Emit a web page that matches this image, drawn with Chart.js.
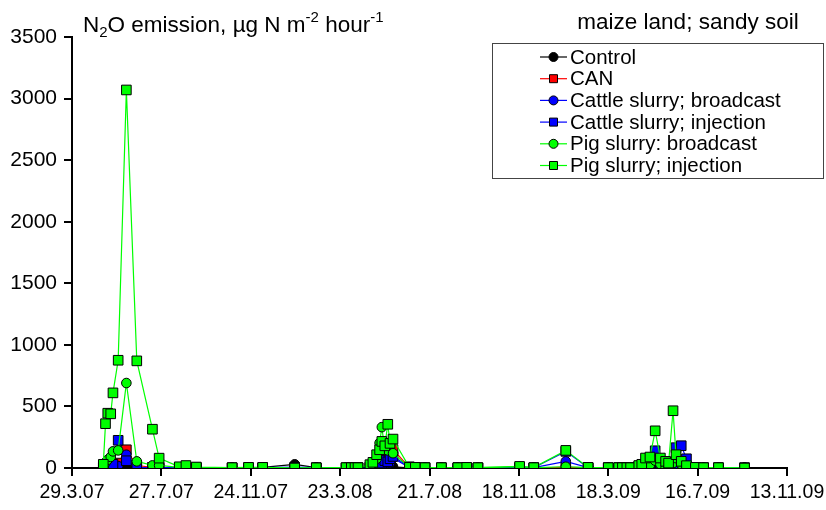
<!DOCTYPE html>
<html>
<head>
<meta charset="utf-8">
<script src="https://cdn.jsdelivr.net/npm/chart.js@4.4.1/dist/chart.umd.min.js"></script>
<style>
  html, body { margin: 0; padding: 0; background: #fff; }
  #wrap { width: 826px; height: 510px; }
</style>
</head>
<body>
<div id="wrap"><canvas id="n2oChart" width="826" height="510"></canvas></div>
<script>
// sampling dates (same for all treatments)
const sampleDates = [
  '2007-05-10','2007-05-13','2007-05-16','2007-05-20','2007-05-23','2007-05-30','2007-06-10','2007-06-24',
  '2007-07-15','2007-07-24','2007-08-20','2007-08-29','2007-09-12','2007-10-30','2007-11-21','2007-12-10',
  '2008-01-22','2008-02-20','2008-03-31','2008-04-07','2008-04-12','2008-04-16','2008-05-02','2008-05-06',
  '2008-05-11','2008-05-15','2008-05-18','2008-05-22','2008-05-26','2008-05-29','2008-06-02','2008-06-24',
  '2008-07-02','2008-07-15','2008-08-06','2008-08-28','2008-09-09','2008-09-24','2008-11-19','2008-12-08',
  '2009-01-20','2009-02-19','2009-03-18','2009-04-01','2009-04-06','2009-04-12','2009-04-17','2009-04-28',
  '2009-05-02','2009-05-07','2009-05-13','2009-05-20','2009-05-27','2009-06-03','2009-06-07','2009-06-13',
  '2009-06-17','2009-06-24','2009-07-01','2009-07-13','2009-07-24','2009-08-13','2009-09-17'
];

const control = [
  5, 8, 10, 10, 12, 10, 15, 5, 3, 3, 2, 2, 2, 2, 3, 5,
  30, 3, 2, 2, 2, 2, 10, 15, 20, 15, 20, 15, 20, 15, 10, 2,
  3, 2, 2, 2, 2, 2, 3, 2, 5, 3, 2, 2, 2, 2, 3, 10,
  15, 10, 8, 10, 8, 5, 8, 10, 10, 8, 5, 2, 2, 2, 2
];
const can = [
  5, 8, 10, 12, 20, 40, 148, 20, 5, 3, 2, 2, 2, 0, 0, 0,
  3, 0, 0, 0, 0, 2, 5, 10, 20, 30, 45, 60, 100, 120, 150, 5,
  2, 0, 0, 0, 0, 0, 0, 0, 5, 0, 0, 0, 0, 0, 0, 3,
  5, 8, 10, 12, 10, 8, 10, 15, 30, 10, 5, 2, 0, 0, 0
];
const cattleBroadcast = [
  15, 25, 30, 20, 40, 15, 108, 5, 3, 3, 2, 2, 2, 2, 2, 3,
  5, 3, 2, 2, 2, 3, 10, 20, 25, 20, 40, 60, 27, 40, 80, 5,
  3, 2, 2, 2, 2, 2, 5, 3, 54, 3, 2, 2, 2, 2, 3, 10,
  15, 20, 10, 40, 20, 10, 20, 30, 60, 40, 10, 5, 3, 3, 3
];
const cattleInjection = [
  5, 10, 15, 20, 30, 225, 59, 3, 3, 3, 2, 2, 2, 2, 3, 3,
  5, 3, 2, 2, 2, 3, 8, 15, 15, 25, 40, 60, 50, 75, 94, 10,
  5, 3, 3, 3, 2, 2, 5, 3, 135, 3, 3, 3, 3, 3, 3, 15,
  20, 30, 40, 140, 50, 30, 40, 30, 165, 181, 75, 5, 3, 3, 3
];
const pigBroadcast = [
  20, 45, 67, 90, 135, 143, 690, 54, 21, 21, 5, 5, 3, 2, 2, 3,
  0, 2, 2, 2, 2, 3, 20, 35, 75, 203, 332, 150, 143, 197, 120, 5,
  3, 2, 2, 2, 3, 3, 10, 3, 10, 3, 2, 2, 2, 2, 3, 20,
  30, 40, 25, 60, 30, 3, 20, 40, 80, 30, 10, 3, 2, 2, 2
];
const pigInjection = [
  30, 360, 445, 440, 610, 875, 3070, 870, 315, 80, 10, 20, 8, 3, 5, 5,
  0, 2, 3, 3, 3, 3, 27, 46, 108, 148, 216, 180, 355, 200, 235, 5,
  5, 3, 3, 3, 5, 3, 13, 3, 143, 5, 3, 3, 3, 3, 3, 20,
  30, 81, 89, 302, 81, 54, 40, 465, 108, 54, 19, 5, 3, 3, 0
];

const xTickLabels = ['29.3.07', '27.7.07', '24.11.07', '23.3.08', '21.7.08', '18.11.08', '18.3.09', '16.7.09', '13.11.09'];

const FONT = '"Liberation Sans", Arial, sans-serif';
const DAY = 86400000;
const startDay = Date.UTC(2007, 2, 29);

function toDays(s) {
  const p = s.split('-').map(Number);
  return (Date.UTC(p[0], p[1] - 1, p[2]) - startDay) / DAY;
}

function points(values) {
  return sampleDates.map((d, i) => ({ x: toDays(d), y: values[i] }));
}

const series = [
  { label: 'Control', data: control, color: '#000000', style: 'circle' },
  { label: 'CAN', data: can, color: '#ff0000', style: 'rect' },
  { label: 'Cattle slurry; broadcast', data: cattleBroadcast, color: '#0000ff', style: 'circle' },
  { label: 'Cattle slurry; injection', data: cattleInjection, color: '#0000ff', style: 'rect' },
  { label: 'Pig slurry: broadcast', data: pigBroadcast, color: '#00ff00', style: 'circle' },
  { label: 'Pig slurry; injection', data: pigInjection, color: '#00ff00', style: 'rect' }
];

const datasets = series.map((s, i) => ({
  label: s.label,
  data: points(s.data),
  borderColor: s.color,
  borderWidth: 1.2,
  pointStyle: s.style,
  pointRadius: s.style === 'rect' ? 6.8 : 4.8,
  pointBackgroundColor: s.color,
  pointBorderColor: '#000000',
  pointBorderWidth: 1,
  tension: 0,
  order: series.length - i   // last series ends up on top
}));

// boxed legend with line + marker symbols
const boxLegend = {
  id: 'boxLegend',
  afterDraw(chart) {
    const ctx = chart.ctx;
    ctx.save();
    ctx.strokeStyle = '#444';
    ctx.lineWidth = 1;
    ctx.strokeRect(492.5, 43.5, 331, 135);
    ctx.font = '20.5px ' + FONT;
    ctx.textBaseline = 'middle';
    series.forEach((s, i) => {
      const y = 57 + i * 21.7;
      ctx.strokeStyle = s.color;
      ctx.lineWidth = 1.2;
      ctx.beginPath();
      ctx.moveTo(540, y);
      ctx.lineTo(567, y);
      ctx.stroke();
      ctx.fillStyle = s.color;
      ctx.strokeStyle = '#000';
      ctx.lineWidth = 1;
      ctx.beginPath();
      if (s.style === 'rect') {
        ctx.rect(549.5, y - 4, 8, 8);
      } else {
        ctx.arc(553.5, y, 4.5, 0, Math.PI * 2);
      }
      ctx.fill();
      ctx.stroke();
      ctx.fillStyle = '#000';
      ctx.fillText(s.label, 570, y + 1);
    });
    ctx.restore();
  }
};

// unit label and panel caption above the plot
const captions = {
  id: 'captions',
  afterDraw(chart) {
    const ctx = chart.ctx;
    ctx.save();
    ctx.fillStyle = '#000';
    ctx.textBaseline = 'alphabetic';
    const runs = [
      ['N', 0], ['2', 1], ['O emission, \u00b5g N m', 0], ['-2', -1], [' hour', 0], ['-1', -1]
    ];
    let x = 83;
    const base = 32;
    runs.forEach(([t, shift]) => {
      ctx.font = (shift === 0 ? '22.5px ' : '15px ') + FONT;
      const dy = shift === 1 ? 5 : shift === -1 ? -10 : 0;
      ctx.fillText(t, x, base + dy);
      x += ctx.measureText(t).width;
    });
    ctx.font = '22.5px ' + FONT;
    ctx.textAlign = 'center';
    ctx.fillText('maize land; sandy soil', 688, 29);
    ctx.restore();
  }
};

new Chart(document.getElementById('n2oChart'), {
  type: 'line',
  data: { datasets },
  options: {
    responsive: false,
    animation: false,
    layout: { padding: { top: 37, right: 39, left: 0, bottom: 0 } },
    plugins: {
      legend: { display: false },
      tooltip: { enabled: false }
    },
    scales: {
      x: {
        type: 'linear',
        min: 0,
        max: 960,
        afterFit: (scale) => {
          scale.height = 42;
          // let the end labels hang past the plot edge
          scale.paddingLeft = 0;
          scale.paddingRight = 0;
        },
        ticks: {
          stepSize: 120,
          autoSkip: false,
          maxRotation: 0,
          padding: 5,
          color: '#000',
          font: { family: FONT, size: 19.5 },
          callback: (v, i) => xTickLabels[i]
        },
        grid: { drawOnChartArea: false, drawTicks: true, tickLength: 8, color: '#000', lineWidth: 2 },
        border: { display: true, color: '#000', width: 2 }
      },
      y: {
        min: 0,
        max: 3500,
        afterFit: (scale) => { scale.width = 72; },
        ticks: {
          stepSize: 500,
          padding: 7,
          color: '#000',
          font: { family: FONT, size: 21 },
          callback: (v) => String(v)
        },
        grid: { drawOnChartArea: false, drawTicks: true, tickLength: 8, color: '#000', lineWidth: 2 },
        border: { display: true, color: '#000', width: 2 }
      }
    }
  },
  plugins: [boxLegend, captions]
});
</script>
</body>
</html>
